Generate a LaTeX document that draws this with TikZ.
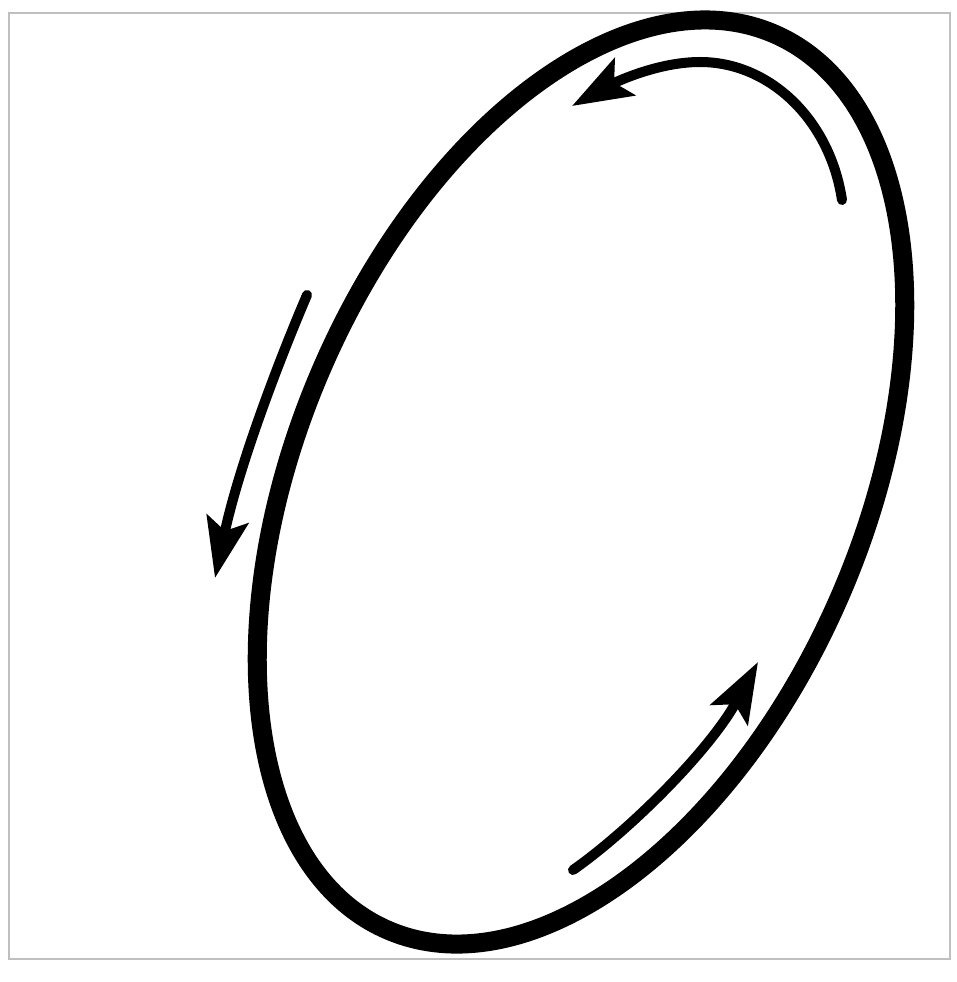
\documentclass[tikz,border=0pt]{standalone}
\usetikzlibrary{arrows.meta}
\begin{document}
\begin{tikzpicture}[x=0.01cm, y=-0.01cm,
  frameline/.style={draw=black!25, line width=0.02cm},
  ring/.style={draw=black, line width=0.19cm},
  flow/.style={draw=black, line width=0.1cm, line cap=round,
    -{Stealth[length=0.6cm, width=0.42cm, inset=0.12cm]}}]
\useasboundingbox (0,0) rectangle (956,982);
\fill[white] (0,0) rectangle (956,982);
\draw[frameline] (9,13) rectangle (950,959);
\coordinate (c) at (581,482);
\draw[ring, rotate around={66.7:(c)}] (c) ellipse [x radius=488, y radius=283];
% top arrow
\coordinate (a1s) at (842,200);
\coordinate (a1m) at (700,62);
\coordinate (a1e) at (572,106);
\draw[flow] (a1s) .. controls (830,120) and (770,62) .. (a1m)
  .. controls (655,62) and (610,85) .. (a1e);
% left arrow
\coordinate (a2s) at (307,295);
\coordinate (a2e) at (215,578);
\draw[flow] (a2s) .. controls (275,370) and (238,470) .. (a2e);
% bottom arrow
\coordinate (a3s) at (573,870);
\coordinate (a3e) at (758,662);
\draw[flow] (a3s) .. controls (630,830) and (710,750) .. (a3e);
\end{tikzpicture}
\end{document}
